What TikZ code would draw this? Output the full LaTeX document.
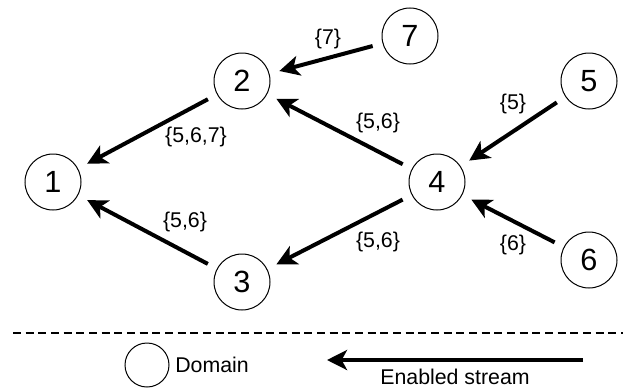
\documentclass[tikz,border=0pt]{standalone}
\usepackage{fontspec}
\setmainfont{Liberation Sans}
\usetikzlibrary{arrows.meta, positioning}

\tikzset{
    dom/.style={circle, draw, line width=0.75pt, minimum size=42pt, inner sep=0pt,
        outer sep=8pt, font=\fontsize{23}{23}\selectfont},
    flow/.style={line width=3pt, -{Stealth[length=15pt, width=15pt, inset=4pt]}},
    lab/.style={inner sep=0pt, font=\fontsize{16}{16}\selectfont}
}

\begin{document}
\begin{tikzpicture}[x=0.75pt, y=-0.75pt]
        \useasboundingbox (0, 0) rectangle (627, 389);

        % 域节点
        \node[dom] (n1) at (53, 182) {1};
        \node[dom] (n2) at (242, 81) {2};
        \node[dom] (n3) at (242, 282) {3};
        \node[dom] (n4) at (437, 182) {4};
        \node[dom] (n5) at (589, 81) {5};
        \node[dom] (n6) at (589, 260) {6};
        \node[dom] (n7) at (410, 36) {7};

        % 数据流
        \draw[flow] (n2) -- (n1);
        \draw[flow] (n3) -- (n1);
        \draw[flow] (n4) -- (n2);
        \draw[flow] (n4) -- (n3);
        \draw[flow] (n7) -- (n2);
        \draw[flow] (n5) -- (n4);
        \draw[flow] (n6) -- (n4);

        % 流标签
        \node[lab] (l21) at (196, 137) {\{5,6,7\}};
        \node[lab] (l31) at (185, 222) {\{5,6\}};
        \node[lab] (l72) at (328, 39) {\{7\}};
        \node[lab] (l42) at (378, 123) {\{5,6\}};
        \node[lab] (l54) at (513, 104) {\{5\}};
        \node[lab] (l43) at (378, 242) {\{5,6\}};
        \node[lab] (l64) at (513, 245) {\{6\}};

        % 分隔线
        \draw[line width=1.1pt, dash pattern=on 6pt off 3.5pt] (13, 333) -- (623, 333);

        % 图例
        \node[dom, minimum size=33pt, outer sep=0pt] (legdom) at (147, 365) {};
        \node[lab, right=4.5pt of legdom] (legdomtxt) {Domain};
        \coordinate (legs) at (583, 360);
        \coordinate (lege) at (327, 360);
        \draw[flow] (legs) -- (lege);
        \node[lab] (legflow) at (455, 377) {Enabled stream};
    \end{tikzpicture}
\end{document}
